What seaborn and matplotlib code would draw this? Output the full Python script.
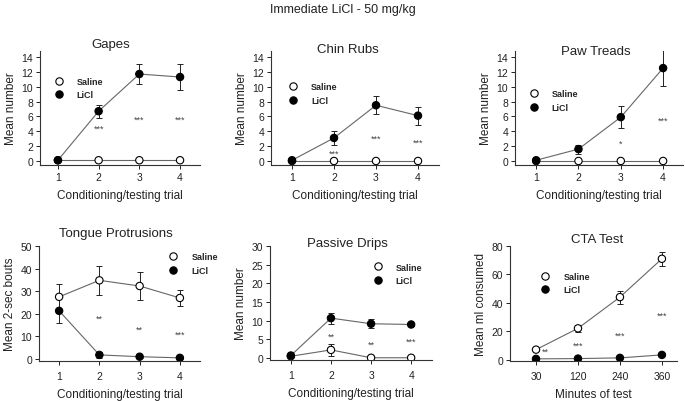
import numpy as np
import pandas as pd
import seaborn as sns
import matplotlib.pyplot as plt

# ---- data ----
trials = [1, 2, 3, 4]
cta_minutes = ["30", "120", "240", "360"]

gapes_saline = [0.1, 0.1, 0.1, 0.1]
gapes_saline_err = [0.0, 0.0, 0.0, 0.0]
gapes_licl = [0.1, 6.7, 11.7, 11.3]
gapes_licl_err = [0.1, 0.9, 1.3, 1.7]
gapes_stars = [(2, 4.4, "***"), (3, 5.6, "***"), (4, 5.6, "***")]

chin_saline = [0.0, 0.0, 0.0, 0.0]
chin_saline_err = [0.0, 0.0, 0.0, 0.0]
chin_licl = [0.1, 3.1, 7.5, 6.1]
chin_licl_err = [0.1, 1.0, 1.2, 1.2]
chin_stars = [(2, 1.1, "***"), (3, 3.1, "***"), (4, 2.5, "***")]

paw_saline = [0.0, 0.0, 0.0, 0.0]
paw_saline_err = [0.0, 0.0, 0.0, 0.0]
paw_licl = [0.1, 1.6, 5.9, 12.5]
paw_licl_err = [0.1, 0.6, 1.5, 2.4]
paw_stars = [(3, 2.4, "*"), (4, 5.5, "***")]

tongue_saline = [27.5, 34.8, 32.3, 27.0]
tongue_saline_err = [5.5, 6.3, 6.2, 3.5]
tongue_licl = [21.3, 1.8, 1.0, 0.5]
tongue_licl_err = [5.6, 1.2, 0.4, 0.3]
tongue_stars = [(2, 18, "**"), (3, 13, "**"), (4, 11, "***")]

drips_saline = [0.5, 2.2, 0.1, 0.1]
drips_saline_err = [0.2, 1.6, 0.1, 0.1]
drips_licl = [0.7, 10.7, 9.2, 9.0]
drips_licl_err = [0.2, 1.5, 1.2, 0.5]
drips_stars = [(2, 5.8, "**"), (3, 3.7, "**"), (4, 4.5, "***")]

cta_saline = [7.0, 22.0, 44.0, 71.0]
cta_saline_err = [0.8, 2.5, 4.5, 5.0]
cta_licl = [0.5, 0.7, 1.2, 3.3]
cta_licl_err = [0.2, 0.3, 0.4, 0.6]
cta_stars = [(1.22, 5.6, "**"), (2, 10, "***"), (3, 17, "***"), (4, 31, "***")]

sns.set_theme(style="ticks")
plt.rcParams["font.family"] = ["Liberation Sans", "DejaVu Sans"]

fig = plt.figure(figsize=(6.85, 4.02), dpi=100)
W, H = 685, 402


def add_axes(left, right, top, bottom):
    return fig.add_axes([left / W, (H - bottom) / H, (right - left) / W, (bottom - top) / H])


panels = [
    dict(box=(40, 200, 52, 166), title="Gapes", tpos=(0.44, 1.06), ylabel="Mean number",
         sal=gapes_saline, sal_e=gapes_saline_err, li=gapes_licl, li_e=gapes_licl_err,
         stars=gapes_stars, xlim=(0.56, 4.49), ylim=(-0.54, 14.8), yticks=range(0, 15, 2),
         leg=(0.02, 0.83), xlabel="Conditioning/testing trial", xticklabels=trials, row=1),
    dict(box=(271, 439, 52, 166), title="Chin Rubs", tpos=(0.46, 1.02), ylabel="Mean number",
         sal=chin_saline, sal_e=chin_saline_err, li=chin_licl, li_e=chin_licl_err,
         stars=chin_stars, xlim=(0.5, 4.5), ylim=(-0.54, 14.8), yticks=range(0, 15, 2),
         leg=(0.04, 0.78), xlabel="Conditioning/testing trial", xticklabels=trials, row=1),
    dict(box=(515, 683, 52, 166), title="Paw Treads", tpos=(0.48, 1.0), ylabel="Mean number",
         sal=paw_saline, sal_e=paw_saline_err, li=paw_licl, li_e=paw_licl_err,
         stars=paw_stars, xlim=(0.5, 4.47), ylim=(-0.54, 14.8), yticks=range(0, 15, 2),
         leg=(0.02, 0.72), xlabel="Conditioning/testing trial", xticklabels=trials, row=1),
    dict(box=(39, 200, 247, 362), title="Tongue Protrusions", tpos=(0.48, 1.11),
         ylabel="Mean 2-sec bouts",
         sal=tongue_saline, sal_e=tongue_saline_err, li=tongue_licl, li_e=tongue_licl_err,
         stars=tongue_stars, xlim=(0.5, 4.5), ylim=(-0.9, 50), yticks=range(0, 51, 10),
         leg=(0.74, 1.0), xlabel="Conditioning/testing trial", xticklabels=trials, row=2),
    dict(box=(270, 432, 247, 361), title="Passive Drips", tpos=(0.48, 1.03), ylabel="Mean number",
         sal=drips_saline, sal_e=drips_saline_err, li=drips_licl, li_e=drips_licl_err,
         stars=drips_stars, xlim=(0.48, 4.52), ylim=(-0.5, 30), yticks=range(0, 31, 5),
         leg=(0.57, 0.91), xlabel="Conditioning/testing trial", xticklabels=trials, row=2),
    dict(box=(510, 677, 247, 362), title="CTA Test", tpos=(0.52, 1.06), ylabel="Mean ml consumed",
         sal=cta_saline, sal_e=cta_saline_err, li=cta_licl, li_e=cta_licl_err,
         stars=cta_stars, xlim=(0.38, 4.36), ylim=(-1.0, 80), yticks=range(0, 81, 20),
         leg=(0.12, 0.83), xlabel="Minutes of test", xticklabels=cta_minutes, row=2),
]

for p in panels:
    ax = add_axes(*p["box"])
    df = pd.DataFrame({
        "x": trials * 2,
        "y": p["sal"] + p["li"],
        "group": ["Saline"] * 4 + ["LiCl"] * 4,
    })
    sns.lineplot(data=df, x="x", y="y", units="group", estimator=None,
                 color="#666666", linewidth=0.8, ax=ax, zorder=1)
    for vals, errs in ((p["sal"], p["sal_e"]), (p["li"], p["li_e"])):
        ax.errorbar(trials, vals, yerr=errs, fmt="none", ecolor="#222222",
                    elinewidth=0.7, capsize=2, capthick=0.7, zorder=2)
    sns.scatterplot(data=df, x="x", y="y", hue="group",
                    palette={"Saline": "white", "LiCl": "black"},
                    edgecolor="black", linewidth=0.8, s=28, ax=ax, zorder=3)
    for sx, sy, s in p["stars"]:
        ax.text(sx, sy, s, fontsize=6.5, color="#444444", ha="center", va="center")

    ax.set_xlim(*p["xlim"])
    ax.set_ylim(*p["ylim"])
    ax.set_xticks(trials)
    ax.set_xticklabels(p["xticklabels"])
    ax.set_yticks(list(p["yticks"]))
    sns.despine(ax=ax)
    for sp in ax.spines.values():
        sp.set_linewidth(0.8)
        sp.set_color("#333333")
    ax.tick_params(labelsize=7.5, length=3, width=0.7, pad=2, colors="#222222")
    if p["row"] == 2:
        ax.tick_params(axis="x", pad=4)
    ax.set_xlabel(p["xlabel"], fontsize=8.5, labelpad=5, color="#222222")
    ax.set_ylabel(p["ylabel"], fontsize=8.5, labelpad=3, color="#222222")
    ax.text(p["tpos"][0], p["tpos"][1], p["title"], transform=ax.transAxes,
            ha="center", va="center", fontsize=9.5, color="#222222")

    handles, labels = ax.get_legend_handles_labels()
    order = [labels.index("Saline"), labels.index("LiCl")]
    leg = ax.legend([handles[i] for i in order], [labels[i] for i in order],
                    loc="upper left", bbox_to_anchor=p["leg"], frameon=False,
                    prop={"size": 6.5, "weight": "bold"}, handletextpad=1.0,
                    labelspacing=0.5, borderpad=0.2, markerscale=1.0)

fig.text(0.5, 1 - 10 / H, "Immediate LiCl - 50 mg/kg", ha="center", va="center",
         fontsize=9, color="#222222")

fig.savefig("out.png", dpi=100)
